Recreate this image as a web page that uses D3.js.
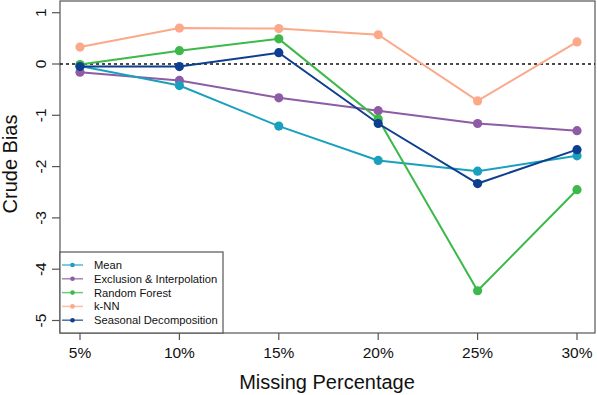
<!DOCTYPE html>
<html>
<head>
<meta charset="utf-8">
<script src="https://cdn.jsdelivr.net/npm/d3@7"></script>
<style>
  body { margin: 0; background: #fff; }
  svg text { font-family: "Liberation Sans", Arial, Helvetica, sans-serif; fill: #111; }
</style>
</head>
<body>
<div id="chart"></div>
<script>
// data
var percents = ['5%', '10%', '15%', '20%', '25%', '30%'];
var yTicks = [1, 0, -1, -2, -3, -4, -5];
var seriesNames = ['Mean', 'Exclusion & Interpolation', 'Random Forest', 'k-NN', 'Seasonal Decomposition'];
var seriesColors = ['#1aa0bf', '#8e5ba6', '#3cb94a', '#fba98a', '#0e3f8e'];
var meanVals = [-0.04, -0.42, -1.21, -1.88, -2.09, -1.79];
var exclusionVals = [-0.16, -0.32, -0.66, -0.91, -1.16, -1.30];
var forestVals = [-0.01, 0.26, 0.49, -1.07, -4.42, -2.45];
var knnVals = [0.33, 0.70, 0.69, 0.57, -0.72, 0.43];
var seasonalVals = [-0.05, -0.05, 0.22, -1.16, -2.33, -1.67];

var allSeries = [meanVals, exclusionVals, forestVals, knnVals, seasonalVals];
// draw order: k-NN first, seasonal last on top
var drawOrder = [3, 1, 0, 2, 4];

var width = 597, height = 395;
var box = {l: 60, r: 595, t: 1, b: 333};

var svg = d3.select('#chart').append('svg')
	.attr('width', width)
	.attr('height', height);

var xScale = d3.scalePoint().domain(percents).range([80, 577]);
var yScale = d3.scaleLinear().domain([1, -5]).range([12.7, 320.5]);

// plot frame
svg.append('rect')
	.attr('x', box.l).attr('y', box.t)
	.attr('width', box.r - box.l).attr('height', box.b - box.t)
	.attr('fill', 'none').attr('stroke', '#555').attr('stroke-width', 1.2);

// y axis (R style, rotated labels)
var yAxisG = svg.append('g');
yAxisG.selectAll('line').data(yTicks).enter().append('line')
	.attr('x1', 52).attr('x2', box.l)
	.attr('y1', function(d) { return yScale(d); })
	.attr('y2', function(d) { return yScale(d); })
	.attr('stroke', '#555').attr('stroke-width', 1.2);
yAxisG.selectAll('text').data(yTicks).enter().append('text')
	.attr('transform', function(d) { return 'translate(45.5,' + yScale(d) + ') rotate(-90)'; })
	.attr('text-anchor', 'middle')
	.style('font-size', '15.5px')
	.text(function(d) { return d; });

// x axis
var xAxisG = svg.append('g');
xAxisG.selectAll('line').data(percents).enter().append('line')
	.attr('x1', function(d) { return xScale(d); })
	.attr('x2', function(d) { return xScale(d); })
	.attr('y1', box.b).attr('y2', 340)
	.attr('stroke', '#555').attr('stroke-width', 1.2);
xAxisG.selectAll('text').data(percents).enter().append('text')
	.attr('x', function(d) { return xScale(d); })
	.attr('y', 358)
	.attr('text-anchor', 'middle')
	.style('font-size', '15.5px')
	.text(function(d) { return d; });

// axis titles
svg.append('text')
	.attr('x', 327).attr('y', 389)
	.attr('text-anchor', 'middle')
	.style('font-size', '20px')
	.text('Missing Percentage');
svg.append('text')
	.attr('transform', 'translate(17,164) rotate(-90)')
	.attr('text-anchor', 'middle')
	.style('font-size', '20px')
	.text('Crude Bias');

// reference line at zero
svg.append('line')
	.attr('x1', box.l).attr('x2', box.r)
	.attr('y1', yScale(0)).attr('y2', yScale(0))
	.attr('stroke', '#111').attr('stroke-width', 1.5)
	.attr('stroke-dasharray', '3,3');

var lineGen = d3.line()
	.x(function(d, i) { return xScale(percents[i]); })
	.y(function(d) { return yScale(d); });

drawOrder.forEach(function(s) {
	var g = svg.append('g').attr('class', 'series');
	g.append('path')
		.attr('d', lineGen(allSeries[s]))
		.attr('fill', 'none')
		.attr('stroke', seriesColors[s])
		.attr('stroke-width', 2);
	g.selectAll('circle').data(allSeries[s]).enter().append('circle')
		.attr('cx', function(d, i) { return xScale(percents[i]); })
		.attr('cy', function(d) { return yScale(d); })
		.attr('r', 4.6)
		.attr('fill', seriesColors[s]);
});

// legend
var legend = svg.append('g');
legend.append('rect')
	.attr('x', box.l).attr('y', 252)
	.attr('width', 223 - box.l).attr('height', box.b - 252)
	.attr('fill', '#fff').attr('stroke', '#555').attr('stroke-width', 1.2);
var rows = legend.selectAll('g').data(seriesNames).enter().append('g')
	.attr('transform', function(d, i) { return 'translate(0,' + (265 + i * 13.8) + ')'; });
rows.append('line')
	.attr('x1', 62).attr('x2', 83)
	.attr('stroke', function(d, i) { return seriesColors[i]; })
	.attr('stroke-opacity', 0.75)
	.attr('stroke-width', 1.5);
rows.append('circle')
	.attr('cx', 72.5).attr('r', 2.3)
	.attr('fill', function(d, i) { return seriesColors[i]; });
rows.append('text')
	.attr('x', 94).attr('y', 4)
	.style('font-size', '11.2px')
	.text(function(d) { return d; });
</script>
</body>
</html>
